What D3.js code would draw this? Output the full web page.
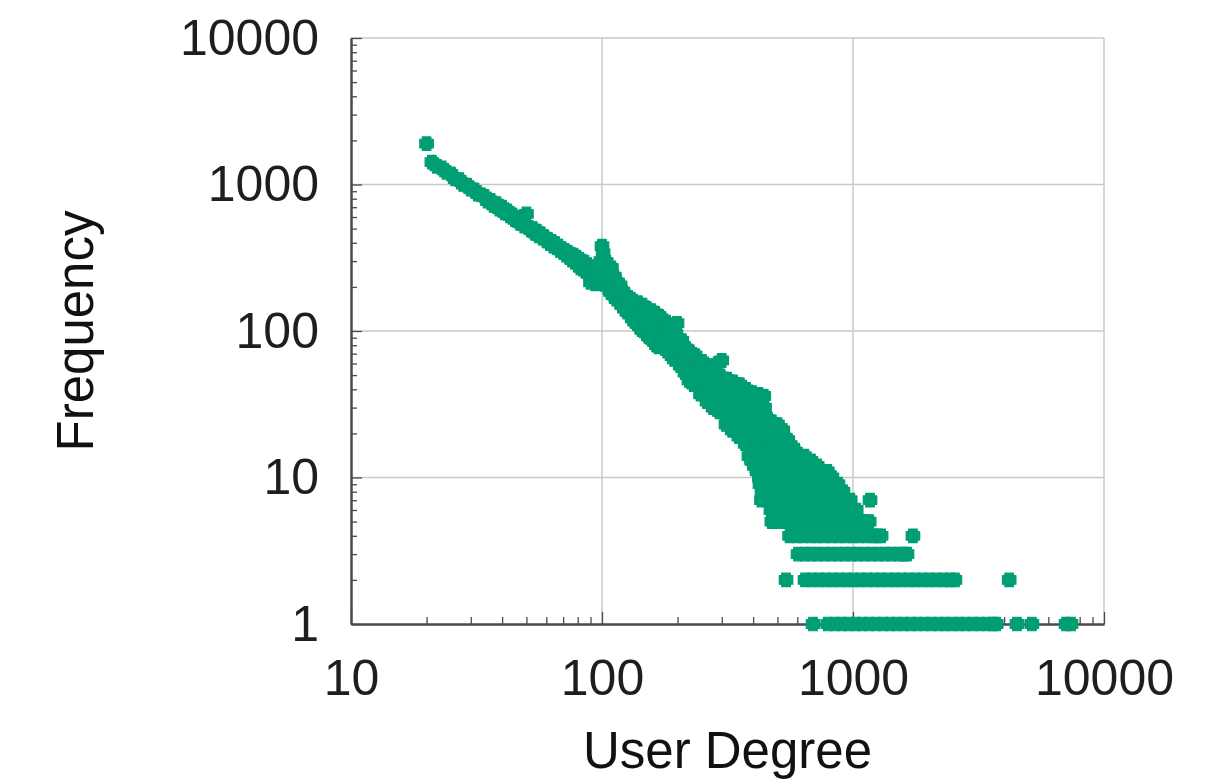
<!DOCTYPE html>
<html>
<head>
<meta charset="utf-8">
<script src="https://cdn.jsdelivr.net/npm/d3@7"></script>
<style>
  body { margin: 0; background: #fff; }
  svg { display: block; font-family: "Liberation Sans", Arial, Helvetica, sans-serif; }
</style>
</head>
<body>
<svg id="chart" width="1215" height="784"></svg>
<script>
// values (user degree -> frequency)
const headDegrees = [20, 21, 22, 23, 24, 25, 26, 27, 28, 29, 30, 31, 32, 33, 34, 35, 36, 37, 38, 39,
  40, 41, 42, 43, 44, 45, 46, 47, 48, 49, 50, 51, 52, 53, 54, 55, 56, 57, 58, 59,
  60, 61, 62, 63, 64, 65, 66, 67, 68, 69, 70, 71, 72, 73, 74, 75, 76, 77, 78, 79,
  80, 81, 82, 83, 84, 85, 86, 87, 88, 89, 90, 91, 92, 93, 94, 95, 96, 97, 98, 99,
  100, 101, 102, 103, 104, 105, 106, 107, 108, 109, 110, 111, 112, 113, 114, 115, 116, 117, 118, 119,
  120, 121, 122, 123, 124, 125, 126, 127, 128, 129, 130, 131, 132, 133, 134, 135, 136, 137, 138, 139,
  140, 141, 142, 143, 144, 145, 146, 147, 148, 149, 150, 151, 152, 153, 154, 155, 156, 157, 158, 159,
  160, 161, 162, 163, 164, 165, 166, 167, 168, 169, 170]
const headFreq = [1900, 1420, 1330, 1300, 1210, 1180, 1090, 1080, 1000, 990, 930, 920, 860, 850, 830, 770, 780, 720, 740, 680,
  700, 640, 660, 610, 620, 575, 600, 545, 570, 520, 630, 510, 490, 500, 465, 480, 445, 460, 430, 440,
  415, 420, 395, 410, 380, 395, 370, 380, 355, 365, 345, 355, 330, 345, 320, 335, 305, 330, 295, 320,
  285, 310, 270, 300, 265, 295, 255, 285, 250, 275, 215, 270, 230, 260, 210, 255, 225, 250, 215, 300,
  380, 340, 260, 215, 295, 200, 245, 225, 185, 270, 205, 175, 235, 195, 165, 215, 185, 160, 205, 172,
  150, 186, 160, 142, 176, 152, 135, 170, 146, 130, 165, 140, 122, 160, 132, 116, 150, 128, 112, 156,
  135, 108, 145, 122, 102, 150, 118, 100, 136, 112, 98, 142, 120, 92, 130, 106, 90, 138, 110, 88,
  124, 100, 84, 132, 96, 80, 115, 90, 78, 126, 104]

// the widening band between ~170 and ~600
const bandPoints = [
  [172, 122], [174, 89], [176, 104], [178, 76],
  [180, 115], [182, 98], [184, 84], [186, 70],
  [188, 108], [190, 92], [192, 78], [194, 64], [199, 113],
  [197, 95], [201, 82], [203, 70], [205, 58],
  [208, 86], [210, 73], [212, 62], [214, 52],
  [216, 76], [218, 64], [220, 55], [222, 46],
  [224, 72], [226, 61], [229, 52], [232, 43],
  [235, 68], [238, 58], [241, 49], [244, 42], [247, 37],
  [250, 62], [253, 53], [256, 45], [259, 39], [262, 33],
  [265, 58], [268, 49], [271, 42], [274, 36], [277, 30],
  [280, 55], [283, 47], [286, 40], [289, 60], [291, 34], [294, 28],
  [297, 49], [300, 63], [301, 42], [303, 36], [306, 31], [309, 27], [312, 23],
  [315, 47], [318, 40], [321, 34], [324, 29], [327, 25], [330, 21],
  [333, 45], [336, 38], [339, 33], [342, 28], [345, 24], [348, 21], [351, 19],
  [354, 43], [357, 37], [360, 31], [363, 27], [366, 23], [369, 20], [372, 17],
  [375, 40], [378, 34], [381, 29], [384, 25], [387, 21], [390, 18], [393, 15],
  [396, 38], [399, 32], [402, 28], [405, 24], [408, 20], [411, 17], [414, 15],
  [420, 37], [423, 32], [426, 27], [429, 23], [432, 20], [435, 17], [438, 15],
  [441, 36], [444, 30], [447, 26], [450, 22], [453, 19], [456, 16],
  [458, 25], [462, 21], [466, 18], [470, 16],
  [475, 24], [480, 20], [485, 17], [490, 15],
  [500, 23], [506, 19], [512, 16],
  [525, 21], [533, 18], [540, 15],
  [550, 18], [558, 16],
  [575, 16], [590, 15]
]

// low frequencies form horizontal rows
const rowFreqs = [1, 2, 3, 4, 5, 6, 7, 8, 9, 10, 11, 12, 13, 14]
const rowDegrees = [
  [693, 794, 846, 901, 960, 1022, 1089, 1160, 1236, 1317, 1403, 1494, 1592, 1696, 1807, 1925, 2051, 2185, 2328, 2480, 2642, 2815, 2999, 3195, 3404, 3600, 3720, 4500, 5160, 7060, 7390],
  [541, 644, 686, 731, 779, 830, 884, 942, 1004, 1069, 1139, 1214, 1293, 1378, 1468, 1564, 1666, 1775, 1891, 2015, 2147, 2287, 2437, 2547, 4190],
  [604, 641, 681, 724, 770, 819, 871, 926, 985, 1047, 1113, 1184, 1259, 1339, 1424, 1514, 1590, 1641],
  [559, 596, 635, 677, 722, 769, 820, 874, 932, 993, 1058, 1128, 1202, 1250, 1294, 1733],
  [475, 506, 539, 574, 612, 652, 695, 740, 789, 841, 896, 955, 1018, 1085, 1125, 1160],
  [471, 502, 535, 570, 607, 647, 690, 735, 783, 834, 889, 947, 1000, 1030],
  [432, 461, 492, 524, 559, 596, 635, 677, 721, 769, 819, 873, 930, 975, 1169],
  [434, 468, 505, 545, 588, 634, 684, 738, 796, 858, 912],
  [426, 460, 496, 535, 577, 622, 671, 724, 781, 842, 871],
  [424, 457, 493, 532, 574, 619, 668, 720, 777, 824],
  [415, 448, 483, 521, 562, 606, 654, 705, 760, 790],
  [405, 437, 471, 508, 548, 591, 638, 688, 720],
  [395, 426, 460, 496, 535, 577, 622, 680],
  [385, 415, 448, 483, 521, 562, 606, 640]
]

const xTickLabels = [10, 100, 1000, 10000]
const yTickLabels = [1, 10, 100, 1000, 10000]

// build one list of points from the arrays above
const points = []
headDegrees.forEach((d, i) => points.push([d, headFreq[i]]))
bandPoints.forEach(p => points.push(p))
rowFreqs.forEach((f, i) => rowDegrees[i].forEach(d => points.push([d, f])))

const svg = d3.select('#chart')
const plotLeft = 351, plotRight = 1104, plotTop = 38, plotBottom = 624

const x = d3.scaleLog().domain([10, 10000]).range([plotLeft, plotRight])
const y = d3.scaleLog().domain([1, 10000]).range([plotBottom, plotTop])

const gridColor = '#c8c8c8'
const axisColor = '#4a4a4a'

// grid
const grid = svg.append('g')
grid.selectAll('.gx')
    .data(xTickLabels.slice(1, -1))
    .enter().append('line')
    .attr('x1', d => x(d)).attr('x2', d => x(d))
    .attr('y1', plotTop).attr('y2', plotBottom)
    .attr('stroke', gridColor).attr('stroke-width', 1.5)
grid.selectAll('.gy')
    .data(yTickLabels.slice(1, -1))
    .enter().append('line')
    .attr('x1', plotLeft).attr('x2', plotRight)
    .attr('y1', d => y(d)).attr('y2', d => y(d))
    .attr('stroke', gridColor).attr('stroke-width', 1.5)
// top and right border
grid.append('line').attr('x1', plotLeft).attr('x2', plotRight).attr('y1', plotTop).attr('y2', plotTop)
    .attr('stroke', gridColor).attr('stroke-width', 1.5)
grid.append('line').attr('x1', plotRight).attr('x2', plotRight).attr('y1', plotTop).attr('y2', plotBottom)
    .attr('stroke', gridColor).attr('stroke-width', 1.5)

// ticks, minor and major, pointing inward
const xMinor = x.ticks().filter(d => !xTickLabels.includes(d))
const yMinor = y.ticks().filter(d => !yTickLabels.includes(d))

function styleAxis(g) {
    g.selectAll('line').attr('stroke', axisColor).attr('stroke-width', 1.3)
    g.select('.domain').attr('stroke', axisColor).attr('stroke-width', 2)
}

svg.append('g')
    .attr('transform', `translate(0, ${plotBottom})`)
    .call(d3.axisTop(x).tickValues(xMinor).tickSize(7).tickSizeOuter(0).tickFormat(''))
    .call(styleAxis)
svg.append('g')
    .attr('transform', `translate(0, ${plotBottom})`)
    .call(d3.axisTop(x).tickValues(xTickLabels).tickSize(12).tickSizeOuter(0).tickFormat(''))
    .call(styleAxis)
svg.append('g')
    .attr('transform', `translate(${plotLeft}, 0)`)
    .call(d3.axisRight(y).tickValues(yMinor).tickSize(6).tickSizeOuter(0).tickFormat(''))
    .call(styleAxis)
svg.append('g')
    .attr('transform', `translate(${plotLeft}, 0)`)
    .call(d3.axisRight(y).tickValues(yTickLabels).tickSize(11).tickSizeOuter(0).tickFormat(''))
    .call(styleAxis)

// tick labels
const xLabels = svg.append('g')
    .attr('transform', `translate(0, ${plotBottom})`)
    .call(d3.axisBottom(x).tickValues(xTickLabels).tickSize(0).tickPadding(35).tickFormat(d3.format('d')))
xLabels.select('.domain').remove()
xLabels.selectAll('text').attr('font-size', 50).attr('fill', '#1e1e1e')
xLabels.attr('font-family', null)

const yLabels = svg.append('g')
    .attr('transform', `translate(${plotLeft}, 0)`)
    .call(d3.axisLeft(y).tickValues(yTickLabels).tickSize(0).tickPadding(32).tickFormat(d3.format('d')))
yLabels.select('.domain').remove()
yLabels.selectAll('text').attr('font-size', 50).attr('fill', '#1e1e1e')
yLabels.attr('font-family', null)

// axis titles
svg.append('text')
    .attr('x', (plotLeft + plotRight) / 2).attr('y', 768)
    .attr('text-anchor', 'middle')
    .attr('font-size', 51).attr('fill', '#111')
    .text('User Degree')
svg.append('text')
    .attr('transform', `translate(93, ${(plotTop + plotBottom) / 2}) rotate(-90)`)
    .attr('text-anchor', 'middle')
    .attr('font-size', 51).attr('fill', '#111')
    .text('Frequency')

// marker: a chunky cross, like the plotted points
const blob = {
    draw(context, size) {
        const b = Math.sqrt(size) / 2
        const a = b * 0.64
        context.moveTo(-a, -b)
        context.lineTo(a, -b); context.lineTo(a, -a); context.lineTo(b, -a)
        context.lineTo(b, a); context.lineTo(a, a); context.lineTo(a, b)
        context.lineTo(-a, b); context.lineTo(-a, a); context.lineTo(-b, a)
        context.lineTo(-b, -a); context.lineTo(-a, -a)
        context.closePath()
    }
}

svg.append('g')
    .selectAll('path')
    .data(points)
    .enter().append('path')
    .attr('transform', d => `translate(${x(d[0])}, ${y(d[1])})`)
    .attr('d', d3.symbol().type(blob).size(182))
    .attr('fill', '#009e73')
    .attr('stroke', '#009e73')
    .attr('stroke-width', 1.2)
    .attr('stroke-linejoin', 'round')
</script>
</body>
</html>
